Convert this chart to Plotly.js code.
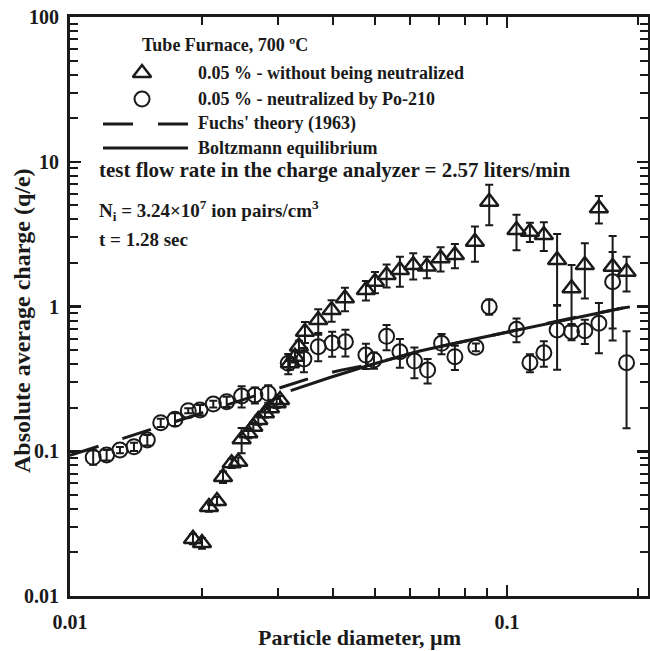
<!DOCTYPE html>
<html><head><meta charset="utf-8">
<script src="https://cdn.plot.ly/plotly-3.0.1.min.js"></script>
<style>body{margin:0;background:#fff}#chart{width:650px;height:651px}</style>
</head><body><div id="chart"></div>
<script>
// Triangles: 0.05 % - without being neutralized
const triX = [0.01912, 0.02005, 0.0208, 0.0217, 0.0224, 0.02344, 0.02427, 0.02471, 0.02559, 0.02628, 0.02698, 0.02794, 0.02869, 0.02972, 0.03025, 0.03187, 0.03273, 0.03342, 0.0345, 0.037, 0.0397, 0.04259, 0.04757, 0.04989, 0.05305, 0.0569, 0.06104, 0.06559, 0.07051, 0.07603, 0.0845, 0.09111, 0.1052, 0.1129, 0.1215, 0.1303, 0.1406, 0.1508, 0.1624, 0.1746, 0.1879];
const triY = [0.0248, 0.0232, 0.0412, 0.0453, 0.0664, 0.0826, 0.0847, 0.1209, 0.133, 0.1478, 0.1643, 0.1828, 0.1981, 0.2143, 0.226, 0.405, 0.45, 0.53, 0.67, 0.807, 0.946, 1.139, 1.30, 1.483, 1.651, 1.787, 1.936, 1.889, 2.153, 2.27, 2.804, 5.297, 3.377, 3.287, 3.119, 2.096, 1.335, 1.936, 4.77, 1.884, 1.739];
const triErr = [0.002, 0.002, 0.003, 0.003, 0.006, 0.006, 0.006, 0.024, 0.01, 0.01, 0.012, 0.012, 0.012, 0.015, 0.015, 0.04, 0.04, 0.05, 0.11, 0.15, 0.16, 0.21, 0.2, 0.25, 0.3, 0.42, 0.4, 0.32, 0.41, 0.43, 0.77, 1.65, 0.93, 0.5, 0.7, 1.07, 0.6, 0.8, 1.02, 1.18, 0.47];

// Circles: 0.05 % - neutralized by Po-210
const cirX = [0.0113, 0.01213, 0.01301, 0.01401, 0.01503, 0.01613, 0.01739, 0.01865, 0.01984, 0.02128, 0.02284, 0.02471, 0.0265, 0.02843, 0.03159, 0.03431, 0.037, 0.03981, 0.0427, 0.04757, 0.04962, 0.05305, 0.0569, 0.06143, 0.06584, 0.07087, 0.07603, 0.08492, 0.09111, 0.1052, 0.1129, 0.1215, 0.1303, 0.1406, 0.1508, 0.1624, 0.1746, 0.1879];
const cirY = [0.0908, 0.0942, 0.102, 0.1075, 0.1196, 0.1575, 0.1662, 0.1906, 0.1928, 0.212, 0.22, 0.2408, 0.2446, 0.2513, 0.405, 0.434, 0.528, 0.559, 0.571, 0.462, 0.427, 0.622, 0.487, 0.42, 0.364, 0.557, 0.45, 0.523, 0.997, 0.696, 0.409, 0.479, 0.689, 0.67, 0.681, 0.766, 1.483, 0.409];
const cirErr = [0.0102, 0.0078, 0.005, 0.0071, 0.0099, 0.0104, 0.0166, 0.0076, 0.016, 0.0115, 0.018, 0.04, 0.031, 0.035, 0.065, 0.082, 0.11, 0.11, 0.12, 0.092, 0.055, 0.124, 0.11, 0.1, 0.07, 0.089, 0.086, 0.033, 0.12, 0.13, 0.058, 0.096, 0.324, 0.086, 0.13, 0.29, 0.9, 0.265];

// Fuchs' theory (1963) - long dashed
const fuchsX = [0.01, 0.015, 0.02, 0.03, 0.0367, 0.042, 0.0486, 0.0632, 0.0823, 0.1071, 0.1394, 0.1842, 0.2013];
const fuchsY = [0.0936, 0.139, 0.184, 0.272, 0.331, 0.365, 0.396, 0.493, 0.587, 0.694, 0.826, 0.976, 1.02];

// Boltzmann equilibrium - solid
const boltzX = [0.032, 0.03936, 0.0486, 0.0632, 0.0823, 0.1071, 0.1394, 0.1842];
const boltzY = [0.262, 0.323, 0.394, 0.493, 0.587, 0.694, 0.826, 0.976];

// Tick labels
const xTickVals = [0.01, 0.1];
const xTickText = ['0.01', '0.1'];
const xMinor = [0.02, 0.03, 0.04, 0.05, 0.06, 0.07, 0.08, 0.09, 0.2];
const yTickVals = [0.01, 0.1, 1, 10, 100];
const yTickText = ['0.01', '0.1', '1', '10', '100'];
const yMinor = [];
[0.01, 0.1, 1, 10].forEach(d => { for (let k = 2; k <= 9; k++) yMinor.push(+(d * k).toPrecision(3)); });

const FONT = 'Liberation Serif, Times New Roman, serif';
const INK = '#1a1a1a';

// legend sample positions (in an overlay 0..1 frame of the plot area)
const legTri = {x: [0.1246], y: [0.9033]};
const legCir = {x: [0.1246], y: [0.8584]};
const legLineX = [0.0571, 0.2042];

const traces = [
  {x: fuchsX, y: fuchsY, mode: 'lines', line: {color: INK, width: 3, dash: '30px,25px'}, hoverinfo: 'skip'},
  {x: boltzX, y: boltzY, mode: 'lines', line: {color: INK, width: 3}, hoverinfo: 'skip'},
  {x: cirX, y: cirY, mode: 'markers',
   marker: {symbol: 'circle-open', size: 15, color: INK, line: {width: 2, color: INK}},
   error_y: {type: 'data', array: cirErr, visible: true, color: INK, thickness: 2, width: 4}},
  {x: triX, y: triY, mode: 'markers',
   marker: {symbol: 'triangle-up-open', size: 16, color: INK, line: {width: 2.5, color: INK}},
   error_y: {type: 'data', array: triErr, visible: true, color: INK, thickness: 2, width: 4}},
  // legend samples
  {x: legTri.x, y: legTri.y, xaxis: 'x2', yaxis: 'y2', mode: 'markers',
   marker: {symbol: 'triangle-up-open', size: 16, color: INK, line: {width: 2.5, color: INK}}},
  {x: legCir.x, y: legCir.y, xaxis: 'x2', yaxis: 'y2', mode: 'markers',
   marker: {symbol: 'circle-open', size: 15, color: INK, line: {width: 2, color: INK}}},
  {x: legLineX, y: [0.8152, 0.8152], xaxis: 'x2', yaxis: 'y2', mode: 'lines', line: {color: INK, width: 3, dash: '30px,25px'}},
  {x: legLineX, y: [0.7737, 0.7737], xaxis: 'x2', yaxis: 'y2', mode: 'lines', line: {color: INK, width: 3}}
];

const txt = (text, x, y, size) => ({text, x, y, xref: 'paper', yref: 'paper', xanchor: 'left', yanchor: 'middle', showarrow: false,
  font: {family: FONT, size, color: INK, weight: 'bold'}});

const axisCommon = {
  showgrid: false, zeroline: false,
  showline: true, linewidth: 3, linecolor: INK, mirror: 'ticks',
  ticks: 'inside', ticklen: 11, tickwidth: 2.5, tickcolor: INK, tickmode: 'array'
};

const layout = {
  width: 650, height: 651,
  margin: {l: 70, r: 2, t: 17, b: 55},
  paper_bgcolor: '#fff', plot_bgcolor: '#fff',
  showlegend: false,
  xaxis: Object.assign({}, axisCommon, {type: 'log', range: [-2, -0.677],
    tickvals: xTickVals, ticktext: xTickText, ticklabelstandoff: 6,
    tickfont: {family: FONT, size: 20, color: INK, weight: 'bold'},
    minor: {tickmode: 'array', tickvals: xMinor, ticks: 'inside', ticklen: 8, tickwidth: 2, tickcolor: INK, showgrid: false}}),
  yaxis: Object.assign({}, axisCommon, {type: 'log', range: [-2, 2],
    tickvals: yTickVals, ticktext: yTickText, ticklabelstandoff: 4,
    tickfont: {family: FONT, size: 20, color: INK, weight: 'bold'},
    minor: {tickmode: 'array', tickvals: yMinor, ticks: 'inside', ticklen: 8, tickwidth: 2, tickcolor: INK, showgrid: false}}),
  xaxis2: {overlaying: 'x', range: [0, 1], visible: false},
  yaxis2: {overlaying: 'y', range: [0, 1], visible: false},
  annotations: [
    txt('Tube Furnace, 700 ºC', 0.1211, 0.9516, 18),
    txt('0.05 % - without being neutralized', 0.218, 0.9033, 18),
    txt('0.05 % - neutralized by Po-210', 0.218, 0.8584, 18),
    txt("Fuchs' theory (1963)", 0.218, 0.8152, 18),
    txt('Boltzmann equilibrium', 0.218, 0.7737, 18),
    txt('test flow rate in the charge analyzer = 2.57 liters/min', 0.0467, 0.7358, 21),
    txt('N<sub>i</sub> = 3.24×10<sup>7</sup> ion pairs/cm<sup>3</sup>', 0.0467, 0.665, 19),
    txt('t = 1.28 sec', 0.0467, 0.6149, 19),
    {text: 'Particle diameter, µm', x: 0.5, y: -0.071, xref: 'paper', yref: 'paper', xanchor: 'center', yanchor: 'middle', showarrow: false,
     font: {family: FONT, size: 22, color: INK, weight: 'bold'}},
    {text: 'Absolute average charge (q/e)', x: -0.083, y: 0.475, xref: 'paper', yref: 'paper', xanchor: 'center', yanchor: 'middle', showarrow: false,
     textangle: -90, font: {family: FONT, size: 24, color: INK, weight: 'bold'}}
  ]
};

Plotly.newPlot('chart', traces, layout, {displayModeBar: false, staticPlot: true});
</script></body></html>
